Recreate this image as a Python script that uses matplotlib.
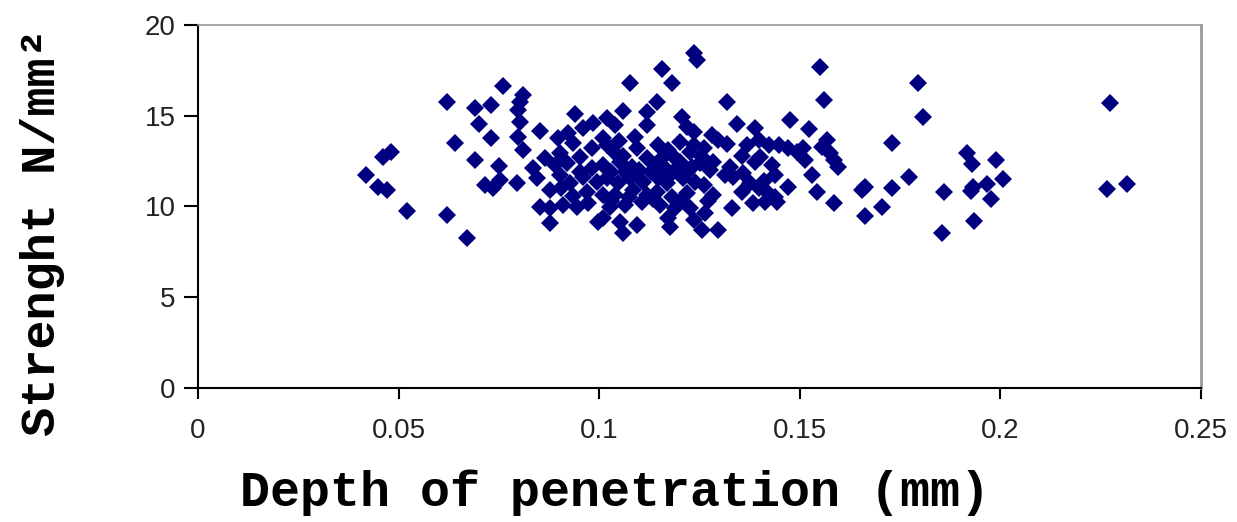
import matplotlib.pyplot as plt

# depth of penetration (mm) and strength (N/mm2)
depth = [
    0.042, 0.045, 0.047, 0.046, 0.048, 0.052, 0.062, 0.064, 0.062, 0.067,
    0.069, 0.069, 0.070, 0.073, 0.076, 0.073, 0.075, 0.0715, 0.0736, 0.0753,
    0.0794, 0.0811, 0.0803, 0.0798, 0.0803, 0.0798, 0.0811, 0.0852, 0.0852, 0.0877,
    0.094, 0.1077, 0.1156, 0.1181, 0.1143, 0.1118, 0.1118, 0.106, 0.1235, 0.1243,
    0.1206, 0.0836, 0.0865, 0.0898, 0.0923, 0.0960, 0.0985, 0.0935, 0.0902, 0.0952,
    0.0981, 0.0844, 0.0877, 0.0902, 0.0927, 0.0952, 0.0981, 0.0994, 0.0969, 0.0877,
    0.0911, 0.0944, 0.0973, 0.0998, 0.1019, 0.1039, 0.1089, 0.1019, 0.1039, 0.1147,
    0.1172, 0.1201, 0.1226, 0.1235, 0.1218, 0.1235, 0.1010, 0.1052, 0.1081, 0.1118,
    0.1139, 0.1164, 0.1201, 0.1231, 0.1019, 0.1048, 0.1077, 0.1110, 0.1147, 0.1168,
    0.1210, 0.1239, 0.1010, 0.1039, 0.1085, 0.1118, 0.1143, 0.1181, 0.1218, 0.1027,
    0.1064, 0.1106, 0.1152, 0.1189, 0.1226, 0.1010, 0.1052, 0.1093, 0.1172, 0.1235,
    0.1060, 0.1176, 0.1318, 0.1476, 0.1343, 0.1388, 0.1280, 0.1297, 0.1318, 0.1368,
    0.1397, 0.1422, 0.1447, 0.1471, 0.1492, 0.1260, 0.1255, 0.1284, 0.1276, 0.1314,
    0.1334, 0.1359, 0.1388, 0.1401, 0.1430, 0.1438, 0.1376, 0.1397, 0.1418, 0.1438,
    0.1471, 0.1355, 0.1384, 0.1413, 0.1442, 0.1330, 0.1284, 0.1260, 0.1264, 0.1255,
    0.1297, 0.1549, 0.1795, 0.1559, 0.1808, 0.1524, 0.1729, 0.1567, 0.1554, 0.1575,
    0.1584, 0.1596, 0.1509, 0.1513, 0.1530, 0.1542, 0.1584, 0.1663, 0.1654, 0.1729,
    0.1704, 0.1663, 0.1771, 0.1858, 0.1854, 0.2273, 0.2266, 0.2315, 0.1916, 0.1928,
    0.1989, 0.2007, 0.1966, 0.1932, 0.1926, 0.1976, 0.1934, 0.1010,
    # points hidden inside the dense core
    0.1030, 0.1065, 0.1100, 0.1130, 0.1185, 0.1220, 0.1030, 0.1075, 0.1135, 0.1205,
    0.1060, 0.1095, 0.1185, 0.0905, 0.0935, 0.0890, 0.0960, 0.0920, 0.1050, 0.1160,
    0.1250, 0.1270, 0.1325, 0.1355, 0.1410,
]
strength = [
    11.74, 11.09, 10.91, 12.74, 13.02, 9.75, 15.77, 13.48, 9.53, 8.28,
    12.56, 15.44, 14.53, 15.59, 16.66, 13.76, 12.23, 11.18, 11.00, 11.46,
    11.31, 16.14, 15.77, 15.32, 14.67, 13.85, 13.11, 14.18, 9.99, 9.11,
    15.10, 16.79, 17.56, 16.79, 15.77, 15.22, 14.49, 15.26, 18.44, 18.07,
    14.95, 12.10, 12.66, 13.76, 14.03, 14.31, 14.58, 13.48, 12.93, 12.74,
    13.21, 11.55, 10.91, 11.74, 11.28, 11.92, 12.10, 11.37, 10.82, 9.90,
    10.08, 9.99, 10.18, 9.16, 14.86, 14.49, 13.85, 13.39, 12.93, 13.39,
    13.11, 13.57, 13.02, 13.39, 14.40, 14.12, 12.29, 12.47, 12.19, 12.66,
    12.29, 12.10, 12.47, 12.19, 11.55, 11.28, 11.55, 11.37, 11.55, 11.28,
    11.55, 11.37, 10.63, 10.63, 10.91, 10.63, 10.82, 10.54, 10.73, 9.99,
    10.08, 10.26, 10.08, 9.90, 9.90, 9.35, 9.16, 8.98, 9.35, 9.26,
    8.52, 8.89, 15.74, 14.77, 14.53, 14.31, 13.94, 13.66, 13.42, 13.39,
    13.66, 13.39, 13.39, 13.21, 13.02, 13.21, 12.74, 12.47, 12.01, 11.74,
    11.64, 11.83, 12.47, 12.74, 12.29, 11.74, 11.28, 11.00, 10.82, 10.54,
    11.09, 10.82, 10.18, 10.26, 10.26, 9.90, 10.63, 11.18, 9.63, 8.71,
    8.71, 17.70, 16.79, 15.87, 14.91, 14.25, 13.48, 13.66, 13.30, 12.93,
    12.56, 12.19, 13.21, 12.56, 11.74, 10.82, 10.18, 11.09, 10.91, 11.00,
    9.99, 9.49, 11.64, 10.82, 8.56, 15.72, 10.95, 11.22, 12.96, 12.34,
    12.56, 11.50, 11.24, 11.09, 10.87, 10.40, 9.20, 13.76,
    11.90, 11.90, 12.00, 11.90, 11.90, 11.90, 10.30, 10.50, 10.40, 10.30,
    12.80, 13.20, 12.80, 11.00, 10.60, 12.30, 11.60, 12.40, 13.60, 12.70,
    12.40, 10.30, 12.20, 12.80, 11.40,
]

x_ticks = [0, 0.05, 0.1, 0.15, 0.2, 0.25]
x_labels = ['0', '0.05', '0.1', '0.15', '0.2', '0.25']
y_ticks = [0, 5, 10, 15, 20]

fig = plt.figure(figsize=(12.37, 5.22), dpi=100)
ax = fig.add_axes([0.160, 0.257, 0.811, 0.695])

ax.plot(depth, strength, linestyle='none', marker='D', markersize=8.8,
        color='#000080', markeredgewidth=0)

ax.set_xlim(0, 0.25)
ax.set_ylim(0, 20)
ax.set_xticks(x_ticks, x_labels)
ax.set_yticks(y_ticks, [str(v) for v in y_ticks])

for lab in ax.get_xticklabels() + ax.get_yticklabels():
    lab.set_family('Liberation Sans')
    lab.set_fontsize(20)
    lab.set_color('#222222')

ax.tick_params(axis='x', direction='out', length=8, width=1.5, pad=14)
ax.tick_params(axis='y', direction='out', length=10, width=1.5, pad=6)

ax.spines['left'].set_linewidth(1.5)
ax.spines['bottom'].set_linewidth(1.5)
ax.spines['top'].set_color('#999999')
ax.spines['right'].set_color('#999999')
ax.spines['top'].set_linewidth(1.2)
ax.spines['right'].set_linewidth(2)

fig.text(0.497, 0.056, 'Depth of penetration (mm)', ha='center', va='center',
         family='Liberation Mono', fontweight='bold', fontsize=36)
fig.text(0.034, 0.556, 'Strenght N/mm\u00b2', ha='center', va='center', rotation=90,
         family='Liberation Mono', fontweight='bold', fontsize=35)

fig.savefig('out.png', dpi=100)
